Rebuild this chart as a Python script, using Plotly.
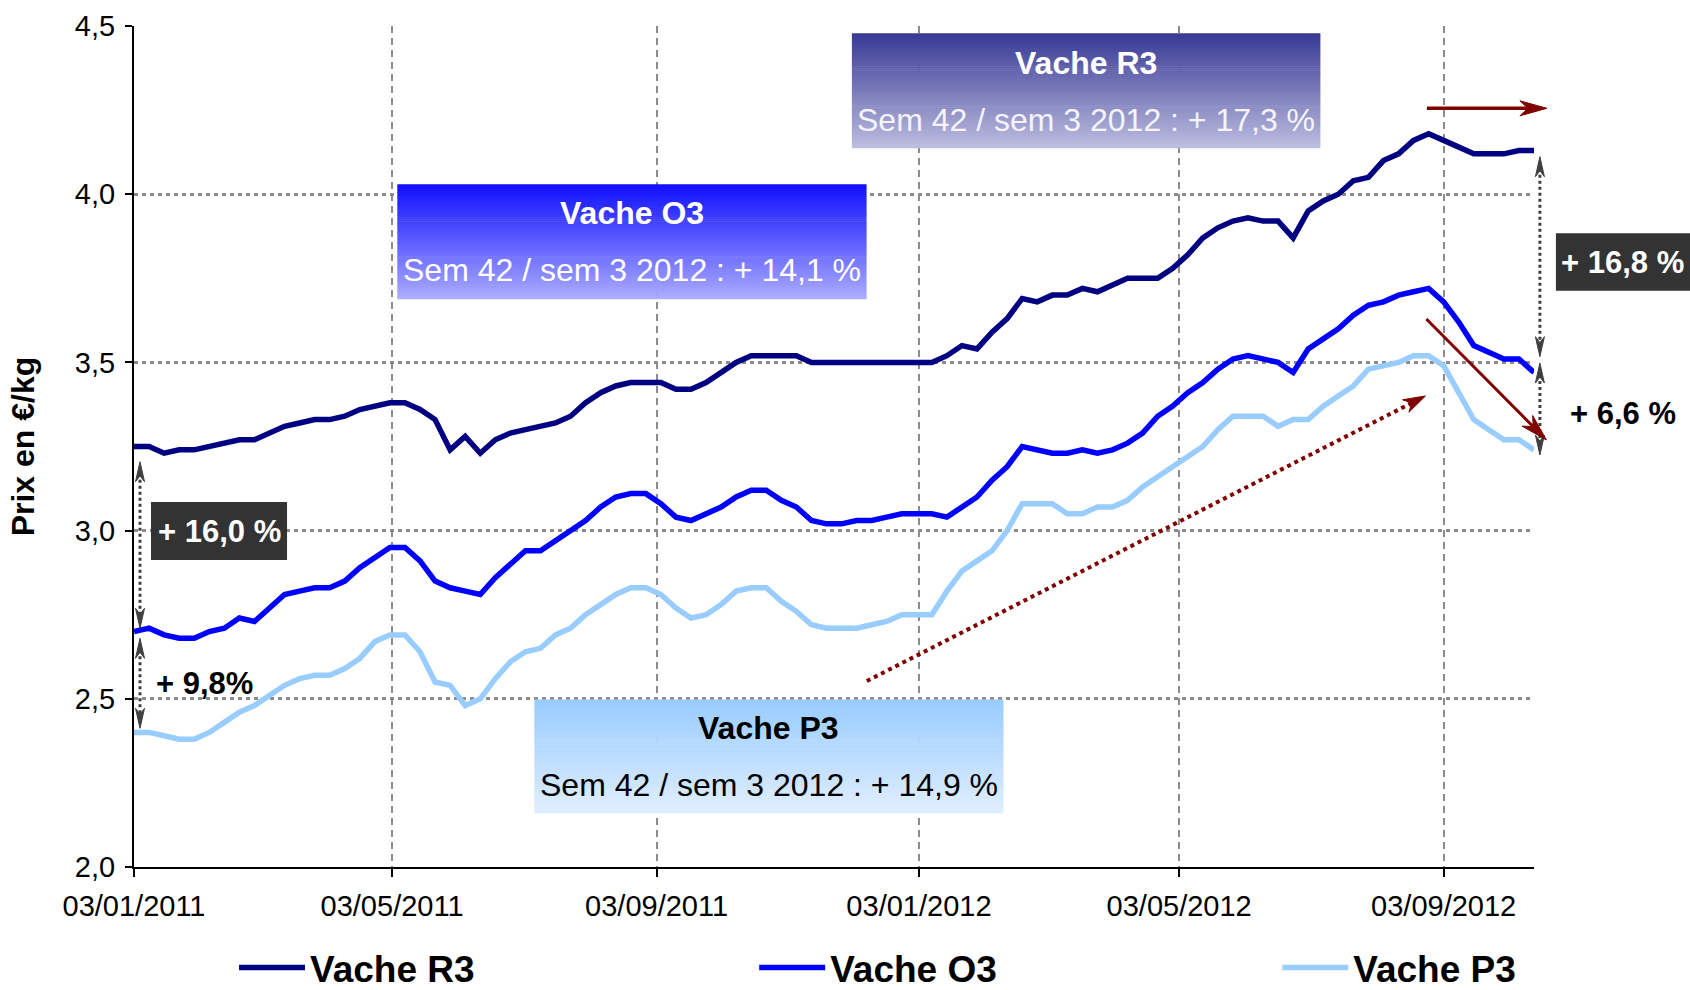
import math
import pandas as pd
import plotly.graph_objects as go

# ---------------- data ----------------
START_WEEK = "2011-01-03"   # week 1 2011 (Monday)
N_WEEKS = 94                # up to week 42 2012
weeks = pd.date_range(START_WEEK, periods=N_WEEKS, freq="7D")

vache_r3 = [3.25, 3.25, 3.23, 3.24, 3.24, 3.25, 3.26, 3.27, 3.27, 3.29,
            3.31, 3.32, 3.33, 3.33, 3.34, 3.36, 3.37, 3.38, 3.38, 3.36,
            3.33, 3.24, 3.28, 3.23, 3.27, 3.29, 3.30, 3.31, 3.32, 3.34,
            3.38, 3.41, 3.43, 3.44, 3.44, 3.44, 3.42, 3.42, 3.44, 3.47,
            3.50, 3.52, 3.52, 3.52, 3.52, 3.50, 3.50, 3.50, 3.50, 3.50,
            3.50, 3.50, 3.50, 3.50, 3.52, 3.55, 3.54, 3.59, 3.63, 3.69,
            3.68, 3.70, 3.70, 3.72, 3.71, 3.73, 3.75, 3.75, 3.75, 3.78,
            3.82, 3.87, 3.90, 3.92, 3.93, 3.92, 3.92, 3.87, 3.95, 3.98,
            4.00, 4.04, 4.05, 4.10, 4.12, 4.16, 4.18, 4.16, 4.14, 4.12,
            4.12, 4.12, 4.13, 4.13]

vache_o3 = [2.70, 2.71, 2.69, 2.68, 2.68, 2.70, 2.71, 2.74, 2.73, 2.77,
            2.81, 2.82, 2.83, 2.83, 2.85, 2.89, 2.92, 2.95, 2.95, 2.91,
            2.85, 2.83, 2.82, 2.81, 2.86, 2.90, 2.94, 2.94, 2.97, 3.00,
            3.03, 3.07, 3.10, 3.11, 3.11, 3.08, 3.04, 3.03, 3.05, 3.07,
            3.10, 3.12, 3.12, 3.09, 3.07, 3.03, 3.02, 3.02, 3.03, 3.03,
            3.04, 3.05, 3.05, 3.05, 3.04, 3.07, 3.10, 3.15, 3.19, 3.25,
            3.24, 3.23, 3.23, 3.24, 3.23, 3.24, 3.26, 3.29, 3.34, 3.37,
            3.41, 3.44, 3.48, 3.51, 3.52, 3.51, 3.50, 3.47, 3.54, 3.57,
            3.60, 3.64, 3.67, 3.68, 3.70, 3.71, 3.72, 3.68, 3.62, 3.55,
            3.53, 3.51, 3.51, 3.47]

vache_p3 = [2.40, 2.40, 2.39, 2.38, 2.38, 2.40, 2.43, 2.46, 2.48, 2.51,
            2.54, 2.56, 2.57, 2.57, 2.59, 2.62, 2.67, 2.69, 2.69, 2.64,
            2.55, 2.54, 2.48, 2.50, 2.56, 2.61, 2.64, 2.65, 2.69, 2.71,
            2.75, 2.78, 2.81, 2.83, 2.83, 2.81, 2.77, 2.74, 2.75, 2.78,
            2.82, 2.83, 2.83, 2.79, 2.76, 2.72, 2.71, 2.71, 2.71, 2.72,
            2.73, 2.75, 2.75, 2.75, 2.82, 2.88, 2.91, 2.94, 3.00, 3.08,
            3.08, 3.08, 3.05, 3.05, 3.07, 3.07, 3.09, 3.13, 3.16, 3.19,
            3.22, 3.25, 3.30, 3.34, 3.34, 3.34, 3.31, 3.33, 3.33, 3.37,
            3.40, 3.43, 3.48, 3.49, 3.50, 3.52, 3.52, 3.49, 3.41, 3.33,
            3.30, 3.27, 3.27, 3.24]

series_names = ["Vache R3", "Vache O3", "Vache P3"]
series_values = [vache_r3, vache_o3, vache_p3]
series_colors = ["#000080", "#0000FF", "#99CCFF"]

x_tick_dates = ["2011-01-03", "2011-05-03", "2011-09-03",
                "2012-01-03", "2012-05-03", "2012-09-03"]
x_tick_labels = ["03/01/2011", "03/05/2011", "03/09/2011",
                 "03/01/2012", "03/05/2012", "03/09/2012"]
x_range = ["2011-01-03", "2012-10-15"]
y_range = [2.0, 4.5]
y_title = "Prix en €/kg"

box_titles = ["Vache R3", "Vache O3", "Vache P3"]
box_subtitles = ["Sem 42 / sem 3 2012 : + 17,3 %",
                 "Sem 42 / sem 3 2012 : + 14,1 %",
                 "Sem 42 / sem 3 2012 : + 14,9 %"]
gap_labels = ["+ 16,0 %", "+ 9,8%", "+ 16,8 %", "+ 6,6 %"]

# ---------------- layout geometry (pixels) ----------------
W, H = 1690, 990
PL, PR, PT, PB = 134, 1533.6, 26, 867
FONT = "Arial, 'Liberation Sans', sans-serif"


def px(x):
    return (x - PL) / (PR - PL)


def py(y):
    return (PB - y) / (PB - PT)


def hex2rgb(h):
    h = h.lstrip("#")
    return tuple(int(h[i:i + 2], 16) for i in (0, 2, 4))


legend_ids = ["legend", "legend2", "legend3"]
legend_x = [234, 754, 1277]

fig = go.Figure()
for name, vals, col, lid in zip(series_names, series_values, series_colors, legend_ids):
    fig.add_trace(go.Scatter(x=weeks, y=vals, name=name, mode="lines",
                             line=dict(color=col, width=5.5), legend=lid))

shapes = []
annotations = []


def gradient_box(x0, y0, x1, y1, ctop, cbot, n=56):
    a, b = hex2rgb(ctop), hex2rgb(cbot)
    for i in range(n):
        t = i / (n - 1)
        c = tuple(round(a[k] + (b[k] - a[k]) * t) for k in range(3))
        ya = y0 + (y1 - y0) * i / n
        yb = y0 + (y1 - y0) * (i + 1) / n + 0.6
        shapes.append(dict(type="rect", xref="paper", yref="paper",
                           x0=px(x0), x1=px(x1), y0=py(min(yb, y1)), y1=py(ya),
                           line=dict(width=0), fillcolor="rgb(%d,%d,%d)" % c,
                           layer="above"))


def text(x, y, s, size, color, bold=False):
    annotations.append(dict(xref="paper", yref="paper", x=px(x), y=py(y),
                            text=s, showarrow=False, xanchor="center",
                            yanchor="middle",
                            font=dict(family=FONT, size=size, color=color,
                                      weight="bold" if bold else "normal")))


def line(x0, y0, x1, y1, color, width, dash="solid"):
    shapes.append(dict(type="line", xref="paper", yref="paper",
                       x0=px(x0), y0=py(y0), x1=px(x1), y1=py(y1),
                       line=dict(color=color, width=width, dash=dash),
                       layer="above"))


def head(tx, ty, fx, fy, length, half, color, notch=0.3):
    # arrow head with tip (tx,ty), pointing away from (fx,fy)
    dx, dy = tx - fx, ty - fy
    d = math.hypot(dx, dy)
    ux, uy = dx / d, dy / d
    nx, ny = -uy, ux
    bx, by = tx - ux * length, ty - uy * length
    mx, my = tx - ux * length * (1 - notch), ty - uy * length * (1 - notch)
    pts = [(tx, ty), (bx + nx * half, by + ny * half), (mx, my),
           (bx - nx * half, by - ny * half)]
    path = "M " + " L ".join("%.6f,%.6f" % (px(a), py(b)) for a, b in pts) + " Z"
    shapes.append(dict(type="path", xref="paper", yref="paper", path=path,
                       fillcolor=color, line=dict(color=color, width=1),
                       layer="above"))


def arrow(x0, y0, x1, y1, color, width, length, half, dash="solid", both=False):
    d = math.hypot(x1 - x0, y1 - y0)
    ux, uy = (x1 - x0) / d, (y1 - y0) / d
    s = 0.6 * length if both else 0
    line(x0 + ux * s, y0 + uy * s, x1 - ux * length * 0.6, y1 - uy * length * 0.6,
         color, width, dash)
    head(x1, y1, x0, y0, length, half, color)
    if both:
        head(x0, y0, x1, y1, length, half, color)


# gradient text boxes
gradient_box(851.7, 33.3, 1320, 148.3, "#383a95", "#bcbcdf")
gradient_box(397.3, 184.3, 866.3, 299.3, "#1010ff", "#ababff")
gradient_box(534.3, 699.4, 1003.2, 813.6, "#99ccff", "#e0eeff")
text(1085.8, 63.3, box_titles[0], 32, "white", True)
text(1085.8, 119.5, box_subtitles[0], 32, "#f4f4fa")
text(631.8, 213.3, box_titles[1], 32, "white", True)
text(631.8, 270.5, box_subtitles[1], 32, "white")
text(768.7, 728.3, box_titles[2], 32, "black", True)
text(768.7, 785.0, box_subtitles[2], 32, "black")

# dark percentage boxes
shapes.append(dict(type="rect", xref="paper", yref="paper", x0=px(151), x1=px(287),
                   y0=py(560), y1=py(502), fillcolor="#333333", line=dict(width=0),
                   layer="above"))
shapes.append(dict(type="rect", xref="paper", yref="paper", x0=px(1555.5), x1=px(1692),
                   y0=py(290.7), y1=py(233.3), fillcolor="#333333", line=dict(width=0),
                   layer="above"))
text(219, 531.5, gap_labels[0], 31, "white", True)
text(204, 683, gap_labels[1], 31, "black", True)
text(1622.5, 262.5, gap_labels[2], 31, "white", True)
text(1622.5, 413, gap_labels[3], 31, "black", True)

# grey dotted double arrows
GREY = "#404040"
arrow(140, 461.7, 140, 628.3, GREY, 3, 20, 4.5, dash="dot", both=True)
arrow(140, 638.3, 140, 728.3, GREY, 3, 20, 4.5, dash="dot", both=True)
arrow(1539.5, 156.7, 1539.5, 356.7, GREY, 3, 20, 4.5, dash="dot", both=True)
arrow(1539.5, 363.0, 1539.5, 455.0, GREY, 3, 20, 4.5, dash="dot", both=True)

# dark red arrows
RED = "#800000"
arrow(1426.5, 108.3, 1546.5, 108.3, RED, 3.5, 27, 7.5)
arrow(1426.0, 319.0, 1546.0, 440.0, RED, 3, 27, 7.5)
arrow(866.6, 681.0, 1425.0, 396.0, RED, 4, 22, 7, dash="4px,4px")

legend_common = dict(orientation="h", xanchor="left", y=py(968), yanchor="middle",
                     font=dict(family=FONT, size=37, weight="bold", color="black"),
                     itemwidth=66, bgcolor="rgba(0,0,0,0)")

fig.update_layout(
    width=W, height=H,
    margin=dict(l=PL, r=W - PR, t=PT, b=H - PB, autoexpand=False),
    paper_bgcolor="white", plot_bgcolor="white",
    separators=", ",
    font=dict(family=FONT, color="black"),
    shapes=shapes, annotations=annotations,
    showlegend=True,
    legend=dict(x=px(legend_x[0]), **legend_common),
    legend2=dict(x=px(legend_x[1]), **legend_common),
    legend3=dict(x=px(legend_x[2]), **legend_common),
)
fig.update_xaxes(type="date", range=x_range, tickvals=x_tick_dates,
                 ticktext=x_tick_labels, ticks="outside", ticklen=8, tickwidth=2,
                 tickcolor="black", showline=True, linecolor="black", linewidth=2,
                 showgrid=True, gridcolor="#8c8c8c", gridwidth=2, griddash="7px,5px",
                 zeroline=False, tickfont=dict(family=FONT, size=29, color="black"),
                 ticklabelstandoff=4)
fig.update_yaxes(range=y_range, tick0=2.0, dtick=0.5, tickformat=".1f",
                 ticks="outside", ticklen=7, tickwidth=2, tickcolor="black",
                 showline=True, linecolor="black", linewidth=2,
                 showgrid=True, gridcolor="#8c8c8c", gridwidth=2.5, griddash="4px,4px",
                 zeroline=False, tickfont=dict(family=FONT, size=29, color="black"),
                 ticklabelstandoff=4,
                 title=dict(text=y_title, standoff=31,
                            font=dict(family=FONT, size=32, weight="bold", color="black")))

fig.write_html("out.html", config={"displayModeBar": False},
               post_script="document.body.style.margin='0px';")
